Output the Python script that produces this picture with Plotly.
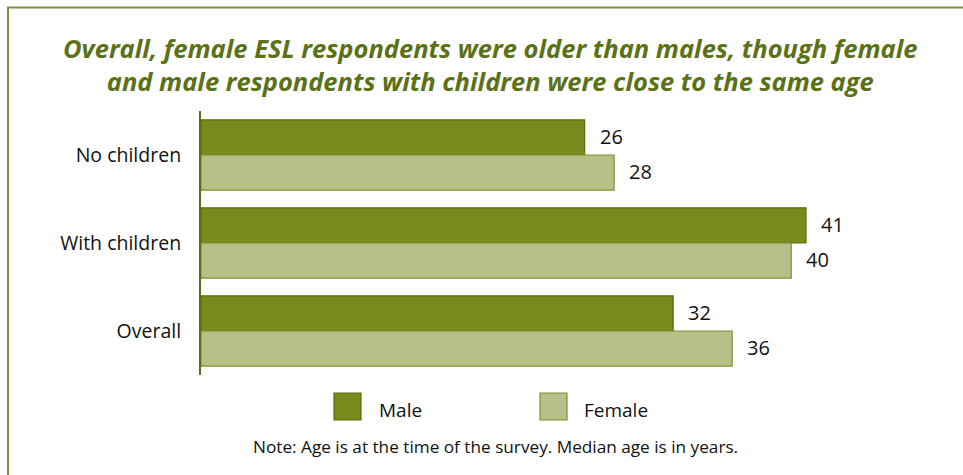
import plotly.graph_objects as go

categories = ["No children", "With children", "Overall"]
male = [26, 41, 32]
female = [28, 40, 36]
series_names = ["Male", "Female"]

title_text = ("Overall, female ESL respondents were older than males, though female"
              "<br>and male respondents with children were close to the same age")
note_text = "Note: Age is at the time of the survey. Median age is in years."

W, H = 963, 475
L, T, B = 201, 111, 100
XMAX = 45
PW = 664
R = W - L - PW
PH = H - T - B

def px2x(px):
    return (px - L) / PW

def px2y(py):
    return (H - B - py) / PH

male_color = "#778c1d"
male_line = "#5b6e12"
female_color = "#b5c186"
female_line = "#7d8f3e"
olive = "#5a7215"
font_fam = "Open Sans, Noto Sans, DejaVu Sans, sans-serif"

fig = go.Figure()
fig.add_trace(go.Bar(y=categories, x=male, orientation="h", name=series_names[0],
                     marker=dict(color=male_color, line=dict(color=male_line, width=1.2))))
fig.add_trace(go.Bar(y=categories, x=female, orientation="h", name=series_names[1],
                     marker=dict(color=female_color, line=dict(color=female_line, width=1.2))))

annotations = []
for cat, m, f in zip(categories, male, female):
    annotations.append(dict(x=m, y=cat, xref="x", yref="y", text=str(m), showarrow=False,
                            xanchor="left", xshift=13, yshift=18.5,
                            font=dict(size=20, color="#111111", family=font_fam)))
    annotations.append(dict(x=f, y=cat, xref="x", yref="y", text=str(f), showarrow=False,
                            xanchor="left", xshift=13, yshift=-16.5,
                            font=dict(size=20, color="#111111", family=font_fam)))

annotations.append(dict(x=px2x(490), y=px2y(64), xref="paper", yref="paper",
                        text="<b><i>" + title_text + "</i></b>", showarrow=False,
                        xanchor="center", yanchor="middle",
                        font=dict(size=25.5, color=olive, family=font_fam)))
annotations.append(dict(x=px2x(377), y=px2y(410), xref="paper", yref="paper",
                        text=series_names[0], showarrow=False, xanchor="left", yanchor="middle",
                        font=dict(size=19, color="#111111", family=font_fam)))
annotations.append(dict(x=px2x(582), y=px2y(410), xref="paper", yref="paper",
                        text=series_names[1], showarrow=False, xanchor="left", yanchor="middle",
                        font=dict(size=19, color="#111111", family=font_fam)))
annotations.append(dict(x=px2x(495), y=px2y(446), xref="paper", yref="paper",
                        text=note_text, showarrow=False, xanchor="center", yanchor="middle",
                        font=dict(size=17.2, color="#111111", family=font_fam)))

shapes = [
    dict(type="rect", xref="paper", yref="paper",
         x0=px2x(8), x1=px2x(990), y0=px2y(7.5), y1=px2y(500),
         line=dict(color="#7f9040", width=2), fillcolor="rgba(0,0,0,0)", layer="below"),
    dict(type="rect", xref="paper", yref="paper",
         x0=px2x(334), x1=px2x(361), y0=px2y(393), y1=px2y(420),
         line=dict(color=male_line, width=1.2), fillcolor=male_color),
    dict(type="rect", xref="paper", yref="paper",
         x0=px2x(540), x1=px2x(567), y0=px2y(393), y1=px2y(420),
         line=dict(color=female_line, width=1.2), fillcolor=female_color),
]

fig.update_layout(
    width=W, height=H,
    margin=dict(l=L, r=R, t=T, b=B, pad=0),
    paper_bgcolor="white", plot_bgcolor="white",
    barmode="group", bargap=0.2, bargroupgap=0,
    showlegend=False,
    annotations=annotations, shapes=shapes,
    xaxis=dict(range=[0, XMAX], visible=False, fixedrange=True),
    yaxis=dict(autorange="reversed", showline=True, linecolor="#5b6e12", linewidth=2,
               ticks="", showgrid=False, zeroline=False, ticklabelstandoff=14,
               tickfont=dict(size=19.5, color="#111111", family=font_fam)),
    font=dict(family=font_fam),
)

fig.write_html("out.html", config={"displayModeBar": False},
               post_script="document.body.style.margin='0';document.body.style.overflow='hidden';")
